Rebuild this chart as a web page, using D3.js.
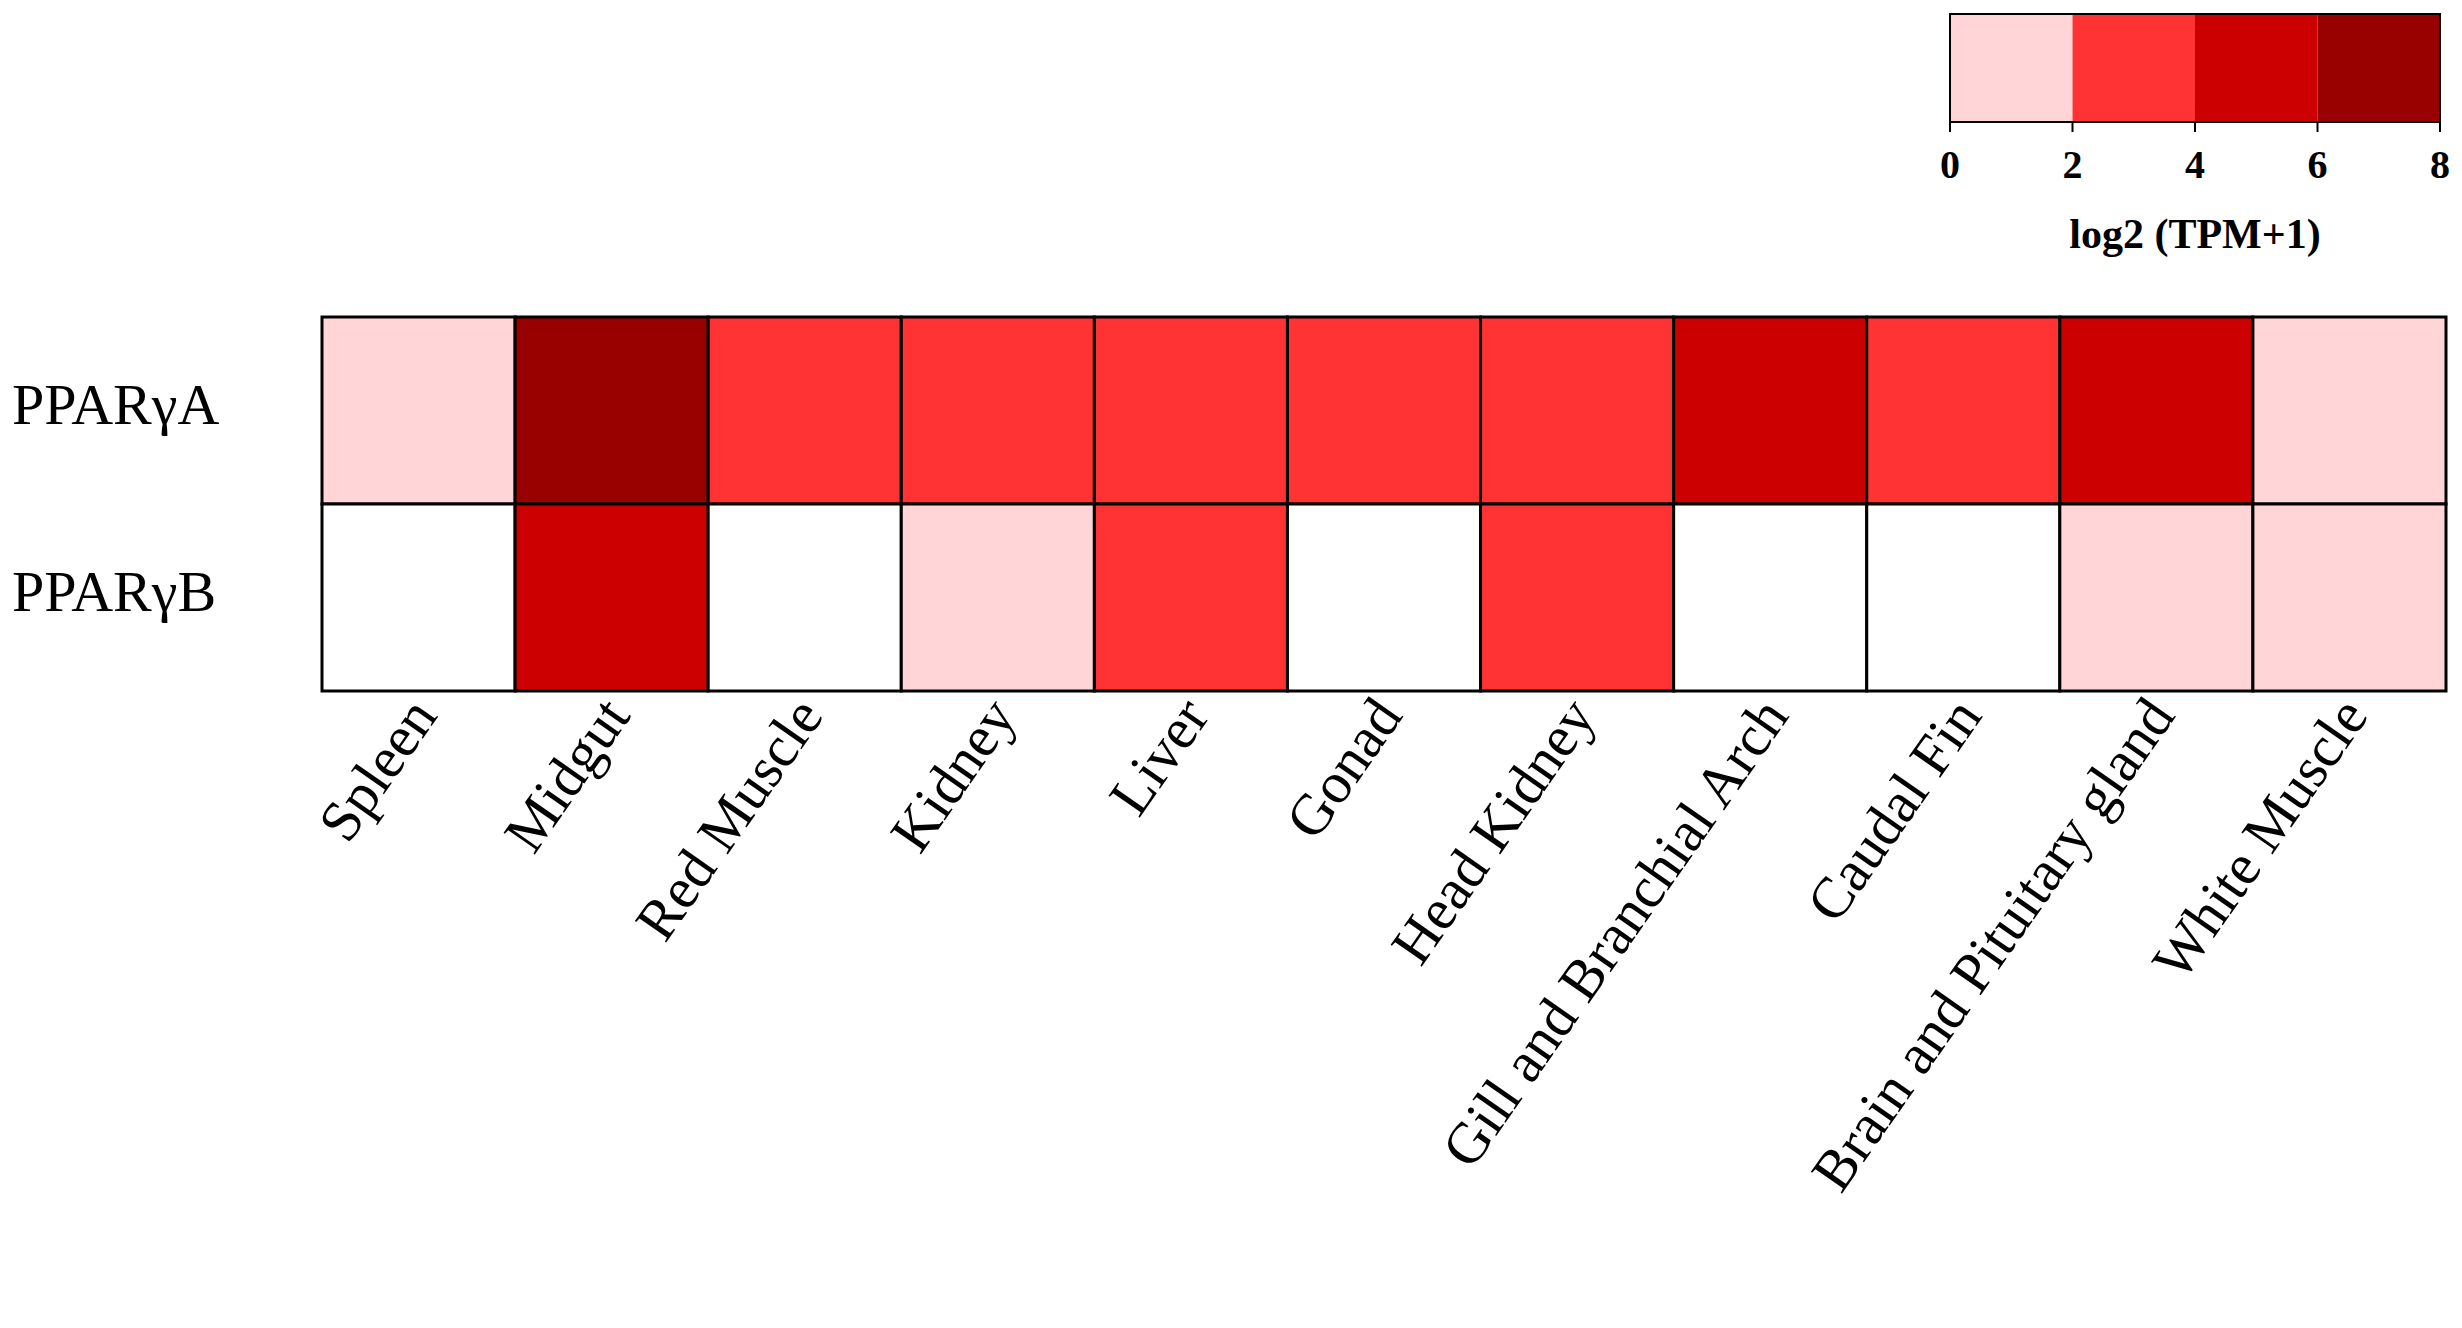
<!DOCTYPE html>
<html><head><meta charset="utf-8">
<script src="https://cdn.jsdelivr.net/npm/d3@7"></script>
<style>body{margin:0;background:#fff}text{font-family:"Liberation Serif",serif}</style>
</head><body><svg id="chart"></svg>
<script>
const tissues = ['Spleen', 'Midgut', 'Red Muscle', 'Kidney', 'Liver', 'Gonad', 'Head Kidney',
    'Gill and Branchial Arch', 'Caudal Fin', 'Brain and Pituitary gland', 'White Muscle']
const genes = ['PPARγA', 'PPARγB']
// log2(TPM+1), null = not expressed
const pparA = [1, 7, 3, 3, 3, 3, 3, 5, 3, 5, 1]
const pparB = [null, 5, null, 1, 3, null, 3, null, null, 1, 1]
const legendBreaks = [0, 2, 4, 6, 8]
const legendColors = ['#ffd5d8', '#ff3333', '#cc0000', '#990000']

const width = 2462, height = 1328
const svg = d3.select('#chart').attr('width', width).attr('height', height)

const cells = []
;[pparA, pparB].forEach((row, i) => row.forEach((v, j) => cells.push({ gene: genes[i], tissue: tissues[j], v })))

const x = d3.scaleBand().domain(tissues).range([322, 2446])
const y = d3.scaleBand().domain(genes).range([317, 691])
const color = d3.scaleThreshold().domain(legendBreaks.slice(1, -1)).range(legendColors)

svg.append('g')
    .selectAll('rect')
    .data(cells)
    .join('rect')
    .attr('x', d => x(d.tissue))
    .attr('y', d => y(d.gene))
    .attr('width', x.bandwidth())
    .attr('height', y.bandwidth())
    .attr('fill', d => d.v == null ? '#ffffff' : color(d.v))
    .attr('stroke', '#000')
    .attr('stroke-width', 3)

svg.append('g')
    .selectAll('text')
    .data(genes)
    .join('text')
    .attr('x', 12)
    .attr('y', d => y(d) + y.bandwidth() / 2)
    .attr('dominant-baseline', 'middle')
    .attr('font-size', 58)
    .text(d => d)

svg.append('g')
    .selectAll('text')
    .data(tissues)
    .join('text')
    .attr('transform', d => `translate(${x(d) + x.bandwidth() / 2 + 20},${716}) rotate(-55)`)
    .attr('text-anchor', 'end')
    .attr('font-size', 58)
    .text(d => d)

// legend
const lx = d3.scaleLinear().domain([0, 8]).range([1950, 2440])
const leg = svg.append('g')
leg.selectAll('rect')
    .data(legendColors)
    .join('rect')
    .attr('x', (d, i) => lx(legendBreaks[i]))
    .attr('y', 14)
    .attr('width', (d, i) => lx(legendBreaks[i + 1]) - lx(legendBreaks[i]))
    .attr('height', 108)
    .attr('fill', d => d)
leg.append('rect')
    .attr('x', lx(0)).attr('y', 14)
    .attr('width', lx(8) - lx(0)).attr('height', 108)
    .attr('fill', 'none').attr('stroke', '#000').attr('stroke-width', 2)
leg.selectAll('line')
    .data(legendBreaks)
    .join('line')
    .attr('x1', d => lx(d)).attr('x2', d => lx(d))
    .attr('y1', 122).attr('y2', 132)
    .attr('stroke', '#000').attr('stroke-width', 2)
leg.selectAll('.tick')
    .data(legendBreaks)
    .join('text')
    .attr('class', 'tick')
    .attr('x', d => lx(d))
    .attr('y', 178)
    .attr('text-anchor', 'middle')
    .attr('font-size', 40)
    .attr('font-weight', 'bold')
    .text(d => d)
leg.append('text')
    .attr('x', lx(4))
    .attr('y', 248)
    .attr('text-anchor', 'middle')
    .attr('font-size', 42)
    .attr('font-weight', 'bold')
    .text('log2 (TPM+1)')
</script></body></html>
